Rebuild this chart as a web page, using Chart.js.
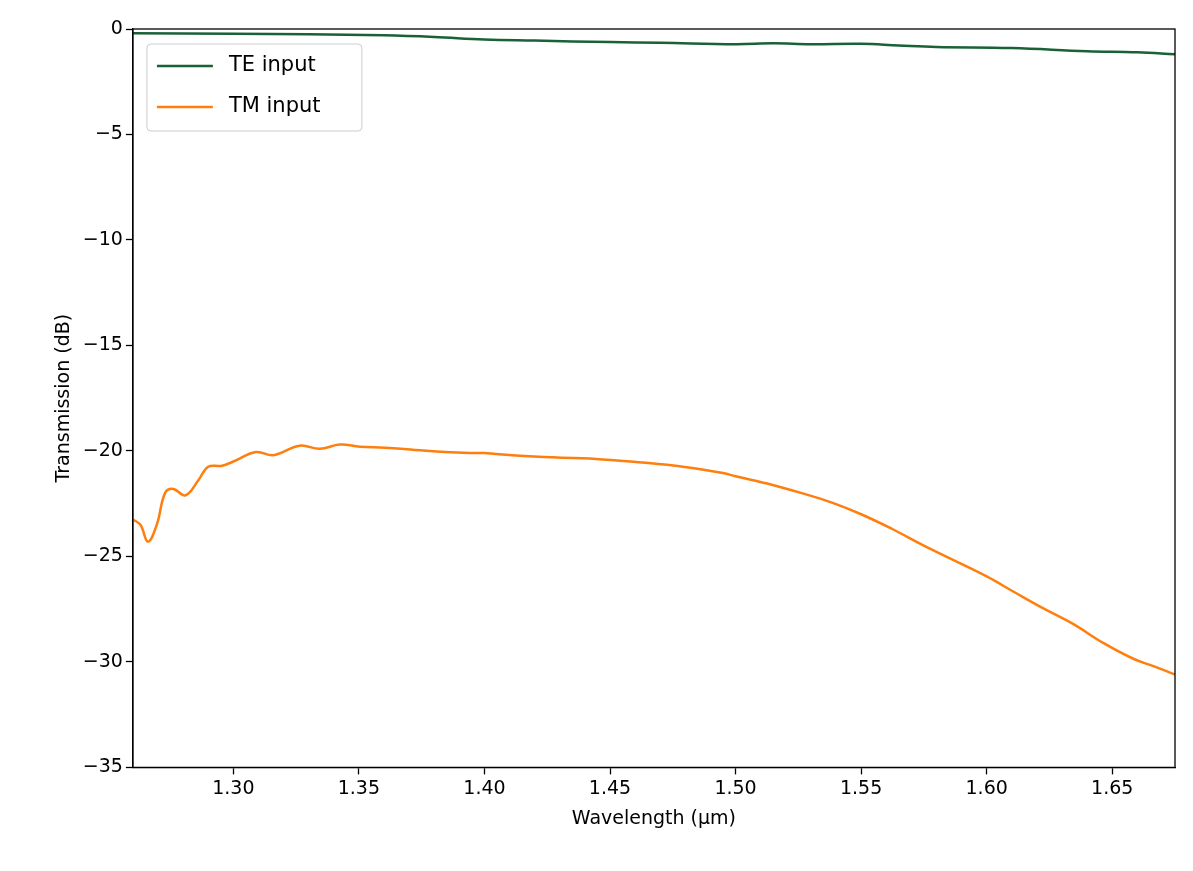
<!DOCTYPE html>
<html><head><meta charset="utf-8">
<script src="https://cdn.jsdelivr.net/npm/chart.js@4/dist/chart.umd.min.js"></script>
<style>html,body{margin:0;background:#fff}#w{width:1193px;height:871px}</style>
</head><body><div id="w"><canvas id="c"></canvas></div>
<script>
const teWavelength=[1.26,1.30,1.33,1.36,1.38,1.40,1.42,1.45,1.47,1.50,1.515,1.53,1.55,1.565,1.58,1.61,1.64,1.66,1.675];
const teValues=[-0.2,-0.22,-0.25,-0.3,-0.38,-0.5,-0.55,-0.62,-0.65,-0.72,-0.68,-0.72,-0.7,-0.78,-0.85,-0.9,-1.05,-1.1,-1.2];
const tmWavelength=[1.26,1.263,1.266,1.2695,1.2728,1.276,1.281,1.286,1.29,1.2955,1.30,1.309,1.316,1.3264,1.3344,1.3424,1.3504,1.3604,1.3724,1.3844,1.3964,1.40,1.411,1.427,1.447,1.463,1.479,1.495,1.50,1.5144,1.5264,1.5384,1.55,1.5624,1.5744,1.5864,1.60,1.6104,1.6224,1.6344,1.6464,1.6584,1.6664,1.675];
const tmValues=[-23.25,-23.5,-24.3,-23.5,-22.0,-21.8,-22.1,-21.4,-20.75,-20.7,-20.5,-20.05,-20.2,-19.75,-19.9,-19.7,-19.8,-19.85,-19.95,-20.05,-20.1,-20.1,-20.2,-20.3,-20.4,-20.55,-20.75,-21.05,-21.2,-21.6,-22.0,-22.45,-23.0,-23.7,-24.45,-25.15,-25.95,-26.65,-27.45,-28.2,-29.1,-29.85,-30.2,-30.6];
const xTicks=[1.30,1.35,1.40,1.45,1.50,1.55,1.60,1.65];
const yTicks=[0,-5,-10,-15,-20,-25,-30,-35];
const pts=(xs,ys)=>xs.map((x,i)=>({x,y:ys[i]}));
const legendPlugin={id:'lg',afterDraw(ch){
 const ctx=ch.ctx,a=ch.chartArea,x=a.left+14,y=a.top+15;
 ctx.save();ctx.fillStyle='rgba(255,255,255,0.8)';ctx.strokeStyle='#ccc';ctx.lineWidth=1;
 ctx.beginPath();ctx.roundRect(x,y,215,87,4);ctx.fill();ctx.stroke();
 ch.data.datasets.forEach((d,i)=>{const yy=y+22+i*41;ctx.strokeStyle=d.borderColor;ctx.lineWidth=2.5;
  ctx.beginPath();ctx.moveTo(x+10,yy);ctx.lineTo(x+66,yy);ctx.stroke();
  ctx.fillStyle='#000';ctx.font='21px DejaVu Sans';ctx.textBaseline='middle';ctx.fillText(d.label,x+82,yy);});
 ctx.restore();}};
new Chart(document.getElementById('c'),{type:'scatter',
 data:{datasets:[
  {label:'TE input',data:pts(teWavelength,teValues),showLine:true,borderColor:'#1a6136',borderWidth:2.5,pointRadius:0,tension:0.4},
  {label:'TM input',data:pts(tmWavelength,tmValues),showLine:true,borderColor:'#ff7f0e',borderWidth:2.5,pointRadius:0,tension:0.4}]},
 options:{responsive:true,maintainAspectRatio:false,animation:false,
  layout:{padding:{top:29,right:18,left:49,bottom:37}},
  plugins:{legend:{display:false},tooltip:{enabled:false}},
  scales:{
   x:{type:'linear',min:1.26,max:1.675,grid:{display:true,drawOnChartArea:false,color:'#000',tickLength:7,tickWidth:1.3},border:{color:'#000',width:1.3},
    afterBuildTicks:s=>{s.ticks=xTicks.map(v=>({value:v}));},
    ticks:{color:'#000',font:{family:'DejaVu Sans',size:19},callback:v=>v.toFixed(2),autoSkip:false,maxRotation:0},
    title:{display:true,text:'Wavelength (μm)',color:'#000',font:{family:'DejaVu Sans',size:19}}},
   y:{min:-35,max:0,grid:{display:true,drawOnChartArea:false,color:'#000',tickLength:7,tickWidth:1.3},border:{color:'#000',width:1.3},
    afterBuildTicks:s=>{s.ticks=yTicks.map(v=>({value:v}));},
    ticks:{color:'#000',font:{family:'DejaVu Sans',size:19},callback:v=>v<0?'\u2212'+Math.abs(v):''+v,autoSkip:false},
    title:{display:true,text:'Transmission (dB)',color:'#000',font:{family:'DejaVu Sans',size:19}}}}},
 plugins:[legendPlugin,{id:'box',afterDraw(ch){const c=ch.ctx,a=ch.chartArea;c.save();c.strokeStyle='#000';c.lineWidth=1.3;c.strokeRect(a.left,a.top,a.right-a.left,a.bottom-a.top);c.restore();}}]
});
</script></body></html>
